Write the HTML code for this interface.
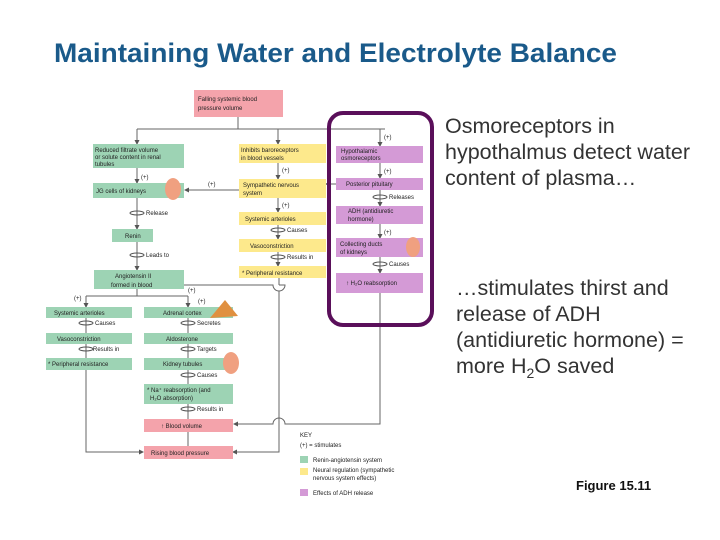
<!DOCTYPE html>
<html><head><meta charset="utf-8"><style>
body{margin:0;background:#fff;}
svg{display:block;font-family:"Liberation Sans",sans-serif;}
.t{font-size:6px;fill:#222;}
.g{fill:#9dd3b4;}
.y{fill:#fde98c;}
.p{fill:#d49ad6;}
.r{fill:#f4a3ab;}
.l{stroke:#666;stroke-width:1;fill:none;}
.big{font-size:21.5px;fill:#333;}
</style></head><body>
<svg width="720" height="540" viewBox="0 0 720 540" xmlns="http://www.w3.org/2000/svg">
<defs><marker id="a" markerWidth="5" markerHeight="5" refX="4" refY="2.5" orient="auto"><path d="M0,0 L5,2.5 L0,5z" fill="#555"/></marker></defs>
<text x="54" y="62" font-size="27" font-weight="bold" fill="#1a5a8a" textLength="563" lengthAdjust="spacingAndGlyphs">Maintaining Water and Electrolyte Balance</text>

<!-- lines -->
<path class="l" d="M238,117 V129 M137,129 H385"/>
<path class="l" d="M137,129 V144" marker-end="url(#a)"/>
<path class="l" d="M278,129 V144" marker-end="url(#a)"/>
<path class="l" d="M380,129 V146" marker-end="url(#a)"/>
<path class="l" d="M137,168 V183" marker-end="url(#a)"/>
<path class="l" d="M137,198 V229" marker-end="url(#a)"/>
<path class="l" d="M137,242 V270" marker-end="url(#a)"/>
<path class="l" d="M278,163 V179" marker-end="url(#a)"/>
<path class="l" d="M239,190 H185" marker-end="url(#a)"/>
<path class="l" d="M278,198 V212" marker-end="url(#a)"/>
<path class="l" d="M278,225 V239" marker-end="url(#a)"/>
<path class="l" d="M278,252 V266" marker-end="url(#a)"/>
<path class="l" d="M380,163 V178" marker-end="url(#a)"/>
<path class="l" d="M336,184 H326" marker-end="url(#a)"/>
<path class="l" d="M380,190 V206" marker-end="url(#a)"/>
<path class="l" d="M380,224 V238" marker-end="url(#a)"/>
<path class="l" d="M380,257 V273" marker-end="url(#a)"/>
<path class="l" d="M137,289 V296 M86,296 H188"/>
<path class="l" d="M86,296 V307" marker-end="url(#a)"/>
<path class="l" d="M188,296 V307" marker-end="url(#a)"/>
<path class="l" d="M184,285 H273 a6,6 0 0 0 12,0 H279"/>
<path class="l" d="M279,278 V285 M279,291 V452 H233" marker-end="url(#a)"/>
<path class="l" d="M86,318 V333 M86,344 V358 M188,318 V333 M188,344 V358 M188,370 V384 M188,404 V419 M188,432 V446"/>
<path class="l" d="M86,370 V452 H143" marker-end="url(#a)"/>
<path class="l" d="M380,293 V424 H285 a6,6 0 0 0 -12,0 H234" marker-end="url(#a)"/>
<g stroke="#555" fill="none">
<ellipse cx="137" cy="213" rx="7" ry="2"/><ellipse cx="137" cy="255" rx="7" ry="2"/>
<ellipse cx="278" cy="230" rx="7" ry="2"/><ellipse cx="278" cy="257" rx="7" ry="2"/>
<ellipse cx="380" cy="197" rx="7" ry="2"/><ellipse cx="380" cy="264" rx="7" ry="2"/>
<ellipse cx="86" cy="323" rx="7" ry="2"/><ellipse cx="86" cy="349" rx="7" ry="2"/>
<ellipse cx="188" cy="323" rx="7" ry="2"/><ellipse cx="188" cy="349" rx="7" ry="2"/>
<ellipse cx="188" cy="375" rx="7" ry="2"/><ellipse cx="188" cy="409" rx="7" ry="2"/>
</g>
<g class="t">
<text x="146" y="215">Release</text><text x="146" y="257">Leads to</text>
<text x="287" y="232">Causes</text><text x="287" y="259">Results in</text>
<text x="389" y="199">Releases</text><text x="389" y="266">Causes</text>
<text x="95" y="325">Causes</text><text x="93" y="351">Results in</text>
<text x="197" y="325">Secretes</text><text x="197" y="351">Targets</text>
<text x="197" y="377">Causes</text><text x="197" y="411">Results in</text>
<text x="141" y="179">(+)</text><text x="208" y="186">(+)</text><text x="282" y="172">(+)</text><text x="282" y="207">(+)</text>
<text x="384" y="139">(+)</text><text x="384" y="173">(+)</text><text x="384" y="234">(+)</text>
<text x="74" y="300">(+)</text><text x="188" y="292">(+)</text><text x="198" y="303">(+)</text>
</g>

<!-- boxes -->
<rect class="r" x="194" y="90" width="89" height="27"/>
<text class="t" x="198" y="101">Falling systemic blood</text><text class="t" x="198" y="110">pressure volume</text>
<rect class="g" x="93" y="144" width="91" height="24"/>
<text class="t" x="95" y="152">Reduced filtrate volume</text><text class="t" x="95" y="159">or solute content in renal</text><text class="t" x="95" y="166">tubules</text>
<rect class="g" x="93" y="183" width="91" height="15"/><text class="t" x="96" y="193">JG cells of kidneys</text>
<ellipse cx="173" cy="189" rx="8" ry="11" fill="#f0a080"/>
<rect class="g" x="112" y="229" width="41" height="13"/><text class="t" x="125" y="238">Renin</text>
<rect class="g" x="94" y="270" width="90" height="19"/><text class="t" x="115" y="278">Angiotensin II</text><text class="t" x="111" y="287">formed in blood</text>
<rect class="y" x="239" y="144" width="87" height="19"/><text class="t" x="241" y="152">Inhibits baroreceptors</text><text class="t" x="241" y="160">in blood vessels</text>
<rect class="y" x="239" y="179" width="87" height="19"/><text class="t" x="243" y="187">Sympathetic nervous</text><text class="t" x="243" y="195">system</text>
<rect class="y" x="239" y="212" width="87" height="13"/><text class="t" x="245" y="221">Systemic arterioles</text>
<rect class="y" x="239" y="239" width="87" height="13"/><text class="t" x="250" y="248">Vasoconstriction</text>
<rect class="y" x="239" y="266" width="87" height="12"/><text class="t" x="242" y="275">* Peripheral resistance</text>
<rect class="p" x="336" y="146" width="87" height="17"/><text class="t" x="341" y="153">Hypothalamic</text><text class="t" x="341" y="160">osmoreceptors</text>
<rect class="p" x="336" y="178" width="87" height="12"/><text class="t" x="346" y="186">Posterior pituitary</text>
<rect class="p" x="336" y="206" width="87" height="18"/><text class="t" x="348" y="213">ADH (antidiuretic</text><text class="t" x="348" y="221">hormone)</text>
<rect class="p" x="336" y="238" width="87" height="19"/><text class="t" x="340" y="246">Collecting ducts</text><text class="t" x="340" y="254">of kidneys</text>
<ellipse cx="413" cy="247" rx="7" ry="10" fill="#f0a080"/>
<rect class="p" x="336" y="273" width="87" height="20"/><text class="t" x="346" y="285">↑ H₂O reabsorption</text>
<rect x="329" y="113" width="103" height="212" rx="14" fill="none" stroke="#5a0f5a" stroke-width="4"/>
<rect class="g" x="46" y="307" width="86" height="11"/><text class="t" x="54" y="315">Systemic arterioles</text>
<rect class="g" x="46" y="333" width="86" height="11"/><text class="t" x="57" y="341">Vasoconstriction</text>
<rect class="g" x="46" y="358" width="86" height="12"/><text class="t" x="48" y="366">* Peripheral resistance</text>
<rect class="g" x="144" y="307" width="89" height="11"/><text class="t" x="163" y="315">Adrenal cortex</text>
<path d="M225,300 L210,318 L238,316z" fill="#e09040"/>
<rect class="g" x="144" y="333" width="89" height="11"/><text class="t" x="166" y="341">Aldosterone</text>
<rect class="g" x="144" y="358" width="89" height="12"/><text class="t" x="163" y="366">Kidney tubules</text>
<ellipse cx="231" cy="363" rx="8" ry="11" fill="#f0a080"/>
<rect class="g" x="144" y="384" width="89" height="20"/><text class="t" x="147" y="392">* Na⁺ reabsorption (and</text><text class="t" x="150" y="400">H₂O absorption)</text>
<rect class="r" x="144" y="419" width="89" height="13"/><text class="t" x="161" y="428">↑ Blood volume</text>
<rect class="r" x="144" y="446" width="89" height="13"/><text class="t" x="151" y="455">Rising blood pressure</text>

<!-- key -->
<text class="t" x="300" y="437">KEY</text><text class="t" x="300" y="447">(+) = stimulates</text>
<rect class="g" x="300" y="456" width="8" height="7"/><text class="t" x="313" y="462">Renin-angiotensin system</text>
<rect class="y" x="300" y="468" width="8" height="7"/><text class="t" x="313" y="472">Neural regulation (sympathetic</text><text class="t" x="313" y="480">nervous system effects)</text>
<rect class="p" x="300" y="489" width="8" height="7"/><text class="t" x="313" y="495">Effects of ADH release</text>

<g class="big">
<text x="445" y="133">Osmoreceptors in</text>
<text x="445" y="159">hypothalmus detect water</text>
<text x="445" y="185">content of plasma…</text>
<text x="456" y="295">…stimulates thirst and</text>
<text x="456" y="321">release of ADH</text>
<text x="456" y="347">(antidiuretic hormone) =</text>
<text x="456" y="373">more H<tspan font-size="14" dy="5">2</tspan><tspan dy="-5">O saved</tspan></text>
</g>
<text x="576" y="490" font-size="13" font-weight="bold" fill="#111">Figure 15.11</text>
</svg>
</body></html>
